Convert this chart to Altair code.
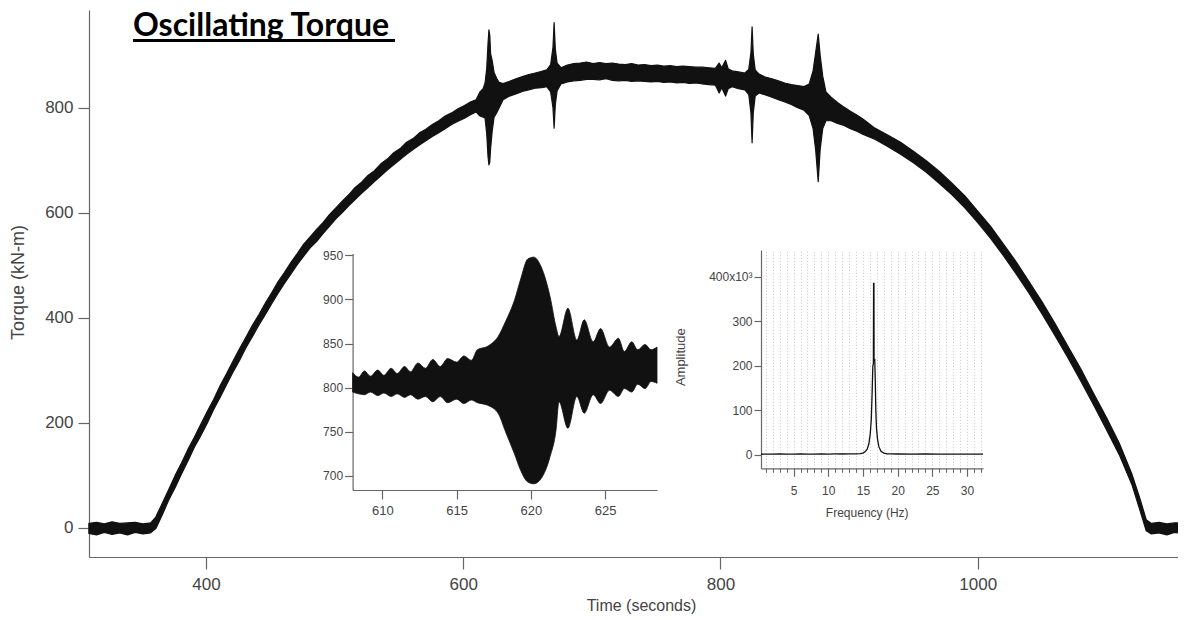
import altair as alt
import pandas as pd

# ---------------- data ----------------
# main record: envelope of the torque band (kN-m) over time (s)
main_time = [309, 315, 321, 327, 333, 339, 345, 351, 357,
             361, 366, 371, 376, 381, 386, 391, 396, 401, 406, 411, 416, 421, 426, 431, 436,
             441, 446, 451, 456, 461, 466, 471, 476, 481, 486, 491, 496, 501, 506, 511, 516,
             521, 526, 531, 536, 541, 546, 551, 556, 561, 566, 571, 576, 581, 586, 591, 596,
             601, 606, 610, 613, 615.5, 617, 618.3, 619.3, 620, 620.7, 621.3, 622.5, 624, 626,
             628, 631, 636, 641, 646, 651, 656, 661, 665, 668, 669.8, 670.7, 671.6, 673, 676,
             681, 686, 691, 696, 701, 706, 711, 716, 721, 726, 731, 736, 741, 746, 751, 756,
             761, 766, 771, 776, 781, 786, 791, 796, 799, 801, 804, 806, 809, 814, 819, 822,
             823.7, 824.6, 825.5, 827, 830, 835, 840, 845, 850, 855, 860, 865, 869, 872, 874,
             876, 877.5, 879.5, 882, 886, 891, 896, 901, 906, 911, 920, 930, 940, 950, 960,
             970, 980, 990, 1000, 1010, 1020, 1030, 1040, 1050, 1060, 1070, 1080, 1090, 1100,
             1110, 1120, 1126, 1131, 1135, 1141, 1147, 1153, 1159, 1156]
main_low = [-11, -14, -9, -13, -10, -14, -9, -12, -10,
            -2, 24, 52, 76, 102, 127, 153, 175, 199, 225, 248, 272, 296, 318, 342, 363,
            385, 405, 426, 446, 465, 483, 501, 517, 533, 545, 560, 574, 588, 600, 613, 625,
            637, 648, 659, 670, 681, 691, 701, 711, 720, 729, 737, 745, 752, 760, 768, 774,
            780, 787, 792, 784, 782, 780, 750, 707, 691, 697, 722, 754, 782, 790,
            800, 815, 822, 826, 831, 834, 837, 838, 840, 830, 800, 761, 805, 832, 845,
            849, 851, 852, 854, 854, 853, 855, 852, 851, 852, 850, 851, 850, 849, 850, 848,
            849, 847, 848, 846, 847, 845, 844, 843, 828, 838, 822, 836, 840, 836, 834, 825,
            790, 733, 790, 822, 828, 824, 820, 815, 811, 806, 800, 795, 785, 760, 720,
            659, 720, 760, 775, 775, 770, 766, 760, 755, 749, 740, 726, 711, 695, 677,
            656, 634, 609, 581, 551, 518, 483, 446, 407, 366, 324, 280, 234, 187,
            139, 81, 34, -6, -12, -10, -14, -9, -12, -10]
main_high = [8, 10, 7, 11, 8, 9, 10, 7, 9,
             20, 46, 72, 99, 123, 149, 172, 197, 221, 244, 270, 293, 317, 340, 362, 385,
             405, 427, 447, 468, 486, 505, 522, 540, 554, 568, 581, 596, 609, 622, 634, 648,
             658, 671, 680, 693, 702, 714, 722, 734, 741, 752, 759, 768, 775, 784, 790, 798,
             804, 811, 815, 830, 836, 847, 875, 922, 948, 937, 903, 890, 867, 856,
             848, 846, 850, 855, 859, 863, 866, 869, 872, 882, 915, 962, 912, 885, 876,
             881, 884, 885, 887, 884, 886, 884, 885, 883, 882, 884, 881, 882, 880, 881, 879,
             880, 878, 879, 878, 877, 877, 876, 875, 885, 876, 890, 874, 870, 868, 866, 873,
             905, 954, 902, 872, 864, 858, 855, 851, 847, 844, 842, 840, 845, 870, 905,
             940, 900, 860, 830, 820, 810, 801, 793, 786, 778, 761, 748, 734, 717, 699,
             679, 656, 632, 603, 574, 540, 506, 468, 430, 389, 346, 303, 256, 210,
             161, 101, 56, 15, 8, 10, 7, 9, 8, 9]

# inset 1: zoom on the event near 620 s (envelope, kN-m)
zoom_time = [608.0, 608.4, 608.8, 609.2, 609.7, 610.1, 610.6, 611.0, 611.5, 611.9, 612.4,
             612.9, 613.4, 613.9, 614.4, 615.0, 615.5, 616.0, 616.4, 617.1, 617.8, 618.3,
             618.9, 619.3, 619.8, 620.2, 620.7, 621.3, 621.7, 621.9, 622.5, 623.1, 623.6,
             624.2, 624.7, 625.3, 625.9, 626.3, 626.8, 627.2, 627.7, 628.1, 628.5]
zoom_low = [795, 793, 792, 795, 791, 794, 790, 793, 789, 792, 787,
            790, 784, 790, 783, 787, 782, 786, 783, 780, 771, 750,
            725, 707, 693, 691, 697, 722, 752, 784, 754, 790, 771,
            792, 782, 797, 790, 799, 795, 804, 799, 807, 805]
zoom_high = [817, 812, 819, 813, 820, 814, 822, 816, 824, 818, 828,
             822, 832, 824, 833, 829, 836, 831, 843, 847, 858, 875,
             899, 922, 946, 948, 937, 903, 869, 858, 890, 854, 877,
             852, 867, 846, 856, 841, 852, 843, 849, 843, 846]

# inset 2: amplitude spectrum (x10^3) vs frequency (Hz)
freq_hz = [0.3, 1, 2, 3, 4, 5, 6, 7, 8, 9, 10, 11, 12, 13, 14, 14.6, 15.0, 15.3, 15.6,
           15.85, 16.05, 16.2, 16.32, 16.42, 16.5, 16.53, 16.58, 16.6, 16.7, 16.78, 16.85,
           16.95, 17.1, 17.3, 17.6, 18.0, 18.5, 19, 20, 22, 24, 26, 28, 30, 32.3]
amp_k = [1.5, 2, 1.8, 2.1, 1.9, 2, 2.2, 1.9, 2, 2.1, 2, 2.2, 2.1, 2.3, 2.5, 3, 4, 7, 13,
         25, 48, 80, 140, 200, 205, 385, 385, 212, 213, 160, 100,
         60, 35, 18, 8, 4, 2.6, 2.2, 2.1, 2, 2.1, 2, 1.9, 2, 2]

main_x_ticks = [400, 600, 800, 1000]
main_y_ticks = [0, 200, 400, 600, 800]
zoom_x_ticks = [610, 615, 620, 625]
zoom_y_ticks = [700, 750, 800, 850, 900, 950]
spec_x_ticks = [5, 10, 15, 20, 25, 30]
spec_minor_ticks = list(range(1, 33))
spec_y_ticks = [0, 100, 200, 300, 400]

title_text = "Oscillating Torque"

# ---------------- layout ----------------
W, H = 1089, 547
SANS = "Liberation Sans, Arial, sans-serif"
AX = dict(domainColor="#666", tickColor="#666", labelColor="#444", titleColor="#444",
          labelFont=SANS, titleFont=SANS, grid=False, domainWidth=1.2, tickWidth=1.2,
          format="d", titleFontWeight="normal")

main_df = pd.DataFrame({"time": main_time, "low": main_low, "high": main_high})
zoom_df = pd.DataFrame({"t": zoom_time, "low": zoom_low, "high": zoom_high})
spec_df = pd.DataFrame({"f": freq_hz, "a": amp_k})
title_df = pd.DataFrame({"label": [title_text]})

x_main = alt.Scale(domain=[309.1, 1155.7], nice=False, zero=False)
y_main = alt.Scale(domain=[-56, 986], nice=False, zero=False)

band = alt.Chart(main_df).mark_area(
    color="#111", stroke="#111", strokeWidth=1.2, strokeJoin="round"
).encode(
    x=alt.X("time:Q", scale=x_main,
            axis=alt.Axis(values=main_x_ticks, title="Time (seconds)", tickSize=12,
                          labelPadding=7, labelFontSize=17, titleFontSize=16,
                          titleX=552, titleY=48, titleBaseline="middle",
                          titleAlign="center", **AX)),
    y=alt.Y("low:Q", scale=y_main,
            axis=alt.Axis(values=main_y_ticks, title="Torque (kN-m)", tickSize=11,
                          labelPadding=5, labelFontSize=17, titleFontSize=18,
                          titleX=-71, titleY=272, titleAngle=270, titleBaseline="middle",
                          titleAlign="center", **AX)),
    y2="high:Q",
)

title_mark = alt.Chart(title_df).mark_text(
    font="Lato", fontSize=32, fontWeight="bold", color="black", align="left",
    baseline="alphabetic"
).encode(text="label:N", x=alt.value(44), y=alt.value(26))

underline = alt.Chart(title_df).mark_rule(color="black", strokeWidth=3).encode(
    x=alt.value(44), x2=alt.value(306), y=alt.value(30.5)
)

main_layer = alt.layer(band, title_mark, underline)

x_zoom = alt.Scale(domain=[608, 628.5], range=[263.6, 568], nice=False, zero=False)
y_zoom = alt.Scale(domain=[684, 952], range=[480, 243.6], nice=False, zero=False)
inset1 = alt.Chart(zoom_df).mark_area(
    color="#111", stroke="#111", strokeWidth=0.8, interpolate="monotone"
).encode(
    x=alt.X("t:Q", scale=x_zoom,
            axis=alt.Axis(orient="bottom", offset=-67, values=zoom_x_ticks, title=None,
                          tickSize=9, labelPadding=5, labelFontSize=13, **AX)),
    y=alt.Y("low:Q", scale=y_zoom,
            axis=alt.Axis(orient="left", offset=-263.6, values=zoom_y_ticks, title=None,
                          tickSize=8, labelPadding=2, labelFontSize=12, **AX)),
    y2="high:Q",
)

x_spec = alt.Scale(domain=[0.3, 32.3], range=[672, 894], nice=False, zero=False)
y_spec = alt.Scale(domain=[-30, 460], range=[458.3, 240], nice=False, zero=False)
spec_line = alt.Chart(spec_df).mark_line(color="#111", strokeWidth=1.3).encode(
    x=alt.X("f:Q", scale=x_spec,
            axis=alt.Axis(orient="bottom", offset=-88.7, values=spec_x_ticks,
                          title="Frequency (Hz)", tickSize=8, labelPadding=9,
                          labelFontSize=12, titleFontSize=12,
                          titleX=777.7, titleY=43.7, titleBaseline="middle",
                          titleAlign="center", **AX)),
    y=alt.Y("a:Q", scale=y_spec,
            axis=alt.Axis(orient="left", offset=-672, values=spec_y_ticks,
                          title="Amplitude", tickSize=7, labelPadding=2, labelFontSize=12,
                          labelExpr="datum.value == 400 ? '400x10³' : datum.label",
                          titleFontSize=13, titleX=-81, titleY=346.7, titleAngle=270,
                          titleBaseline="middle", titleAlign="center", **AX)),
)

# minor ticks + dotted grid of the spectrum inset (grid span uses this layer's y range)
y_spec_grid = alt.Scale(domain=[-30, 460], range=[H - 458.3, H - 240], nice=False, zero=False)
spec_minor = alt.Chart(spec_df).mark_line(opacity=0).encode(
    x=alt.X("f:Q", scale=x_spec,
            axis=alt.Axis(orient="bottom", offset=-88.7, values=spec_minor_ticks,
                          labels=False, title=None, tickSize=4, domain=False,
                          tickColor="#666", grid=True, gridColor="#c8c8c8",
                          gridDash=[1, 2], gridWidth=1)),
    y=alt.Y("a:Q", scale=y_spec_grid, axis=None),
)

chart = alt.layer(main_layer, spec_minor, inset1, spec_line).resolve_scale(
    x="independent", y="independent"
).resolve_axis(
    x="independent", y="independent"
).properties(
    width=W, height=H,
    padding={"left": 81, "top": 2, "right": 0, "bottom": 63},
    autosize=alt.AutoSizeParams(type="none"),
    background="white",
).configure_view(stroke=None)

chart.save("out.html", embed_options={"renderer": "svg", "actions": False})
